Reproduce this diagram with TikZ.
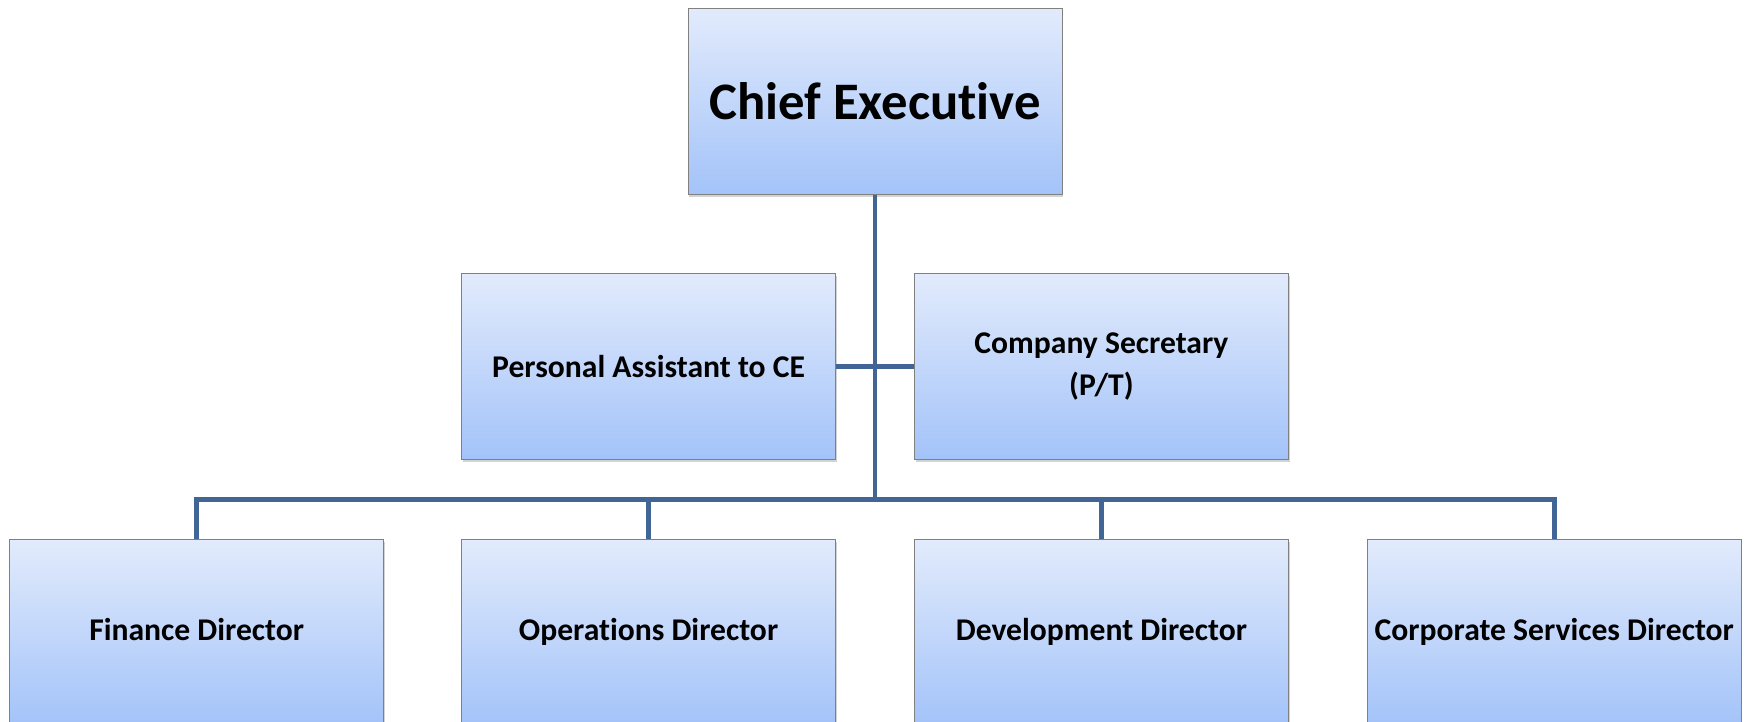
\documentclass[tikz,border=0pt]{standalone}
\usepackage{fontspec}
\setmainfont{Carlito}[Ligatures=NoCommon]
\usepackage{tikz}
\usetikzlibrary{positioning,shadows}
\definecolor{linkblue}{RGB}{65,101,148}
\definecolor{boxtop}{RGB}{226,235,252}
\definecolor{boxbottom}{RGB}{163,195,249}
\definecolor{boxline}{RGB}{128,128,128}

\begin{document}
\begin{tikzpicture}[
	post/.style={draw=boxline, line width=0.5pt, top color=boxtop, bottom color=boxbottom,
		minimum width=7.48cm, minimum height=3.72cm, inner sep=0pt, align=center,
		font=\fontsize{18}{24}\selectfont\bfseries,
		drop shadow={shadow xshift=0.6pt, shadow yshift=-1.6pt, opacity=0.35}},
	link/.style={draw=linkblue, line width=2.8pt},
	node distance=1.56cm]

	\useasboundingbox (0,0) rectangle (34.94,-14.44);

	\node[post, font=\fontsize{30}{36}\selectfont\bfseries] (ce) at (17.5,-2.03) {Chief Executive};

	\node[post, below left=1.56cm and 0.78cm of ce.south] (pa) {Personal Assistant to CE};
	\node[post, below right=1.56cm and 0.78cm of ce.south] (cs) {Company Secretary\\(P/T)};

	\node[post, below=1.58cm of pa] (ops) {Operations Director\strut};
	\node[post, below=1.58cm of cs] (dev) {Development Director\strut};
	\node[post, left=1.54cm of ops] (fin) {Finance Director\strut};
	\node[post, right=1.56cm of dev] (corp) {Corporate Services Director\strut};

	\coordinate[below=0.8cm of pa] (bus);

	\draw[link] (pa.east) -- (cs.west);
	\draw[link] (ce.south) -- (ce.south |- bus);
	\draw[link] (fin.north) -- (fin.north |- bus) -- (corp.north |- bus) -- (corp.north);
	\foreach \n in {ops,dev}
		\draw[link] (\n.north) -- (\n.north |- bus);

\end{tikzpicture}
\end{document}
